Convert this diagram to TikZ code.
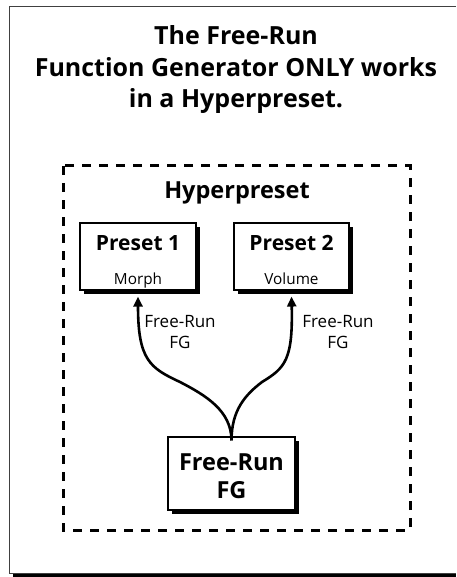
\documentclass[tikz,border=0pt]{standalone}
\usepackage{fontspec}
\setmainfont{Open Sans}
\usetikzlibrary{arrows.meta,shadows,calc}
\begin{document}
\begin{tikzpicture}[x=1pt,y=-1pt,
  box/.style={draw,line width=1.1pt,fill=white,inner sep=0pt,
    drop shadow={shadow xshift=3.5pt,shadow yshift=-3.5pt,fill=black,opacity=1}},
  title/.style={font=\bfseries\fontsize{25}{28}\selectfont,anchor=base,inner sep=0pt},
  head/.style={font=\bfseries\fontsize{21}{24}\selectfont,anchor=base,inner sep=0pt},
  bighead/.style={font=\bfseries\fontsize{23.5}{26}\selectfont,anchor=base,inner sep=0pt},
  small/.style={font=\fontsize{15.3}{17}\selectfont,anchor=base,inner sep=0pt},
  lbl/.style={font=\fontsize{17}{19}\selectfont,anchor=base,inner sep=0pt},
  flow/.style={line width=2.6pt,-{Triangle[length=10pt,width=9pt]}}]
\useasboundingbox (0,0) rectangle (456,577);
% outer frame
\draw[line width=0.8pt,black!75] (456,6) -- (9,6) -- (9,573) -- (456,573);
\fill (13,573.5) rectangle (456,577);
% title
\node[title] (t1) at (236,45) {The Free-Run};
\node[title] (t2) at (236,77) {Function Generator ONLY works};
\node[title] (t3) at (236,108) {in a Hyperpreset.};
% hyperpreset dashed box
\draw[line width=3pt,dash pattern=on 9pt off 8pt] (63,166) rectangle (410,530);
\node[bighead] (hp) at (237,198) {Hyperpreset};
% preset boxes
\node[box,minimum width=116pt,minimum height=67pt] (p1) at (138,256.5) {};
\node[head] (p1t) at (138,250) {Preset 1};
\node[small] (p1s) at (138,284) {Morph};
\node[box,minimum width=115pt,minimum height=67pt] (p2) at (291.5,256.5) {};
\node[head] (p2t) at (291.5,250) {Preset 2};
\node[small] (p2s) at (291.5,284) {Volume};
% FG box
\node[box,minimum width=127pt,minimum height=73pt] (fg) at (231.5,473.5) {};
\node[bighead] (fgt) at (231.5,470) {Free-Run};
\node[bighead] (fgb) at (231.5,498) {FG};
% labels
\node[lbl] (l1a) at (180,327) {Free-Run};
\node[lbl] (l1b) at (180,348) {FG};
\node[lbl] (l2a) at (338,327) {Free-Run};
\node[lbl] (l2b) at (338,348) {FG};
% connectors
\coordinate (m) at ([yshift=-4pt]fg.north);
\draw[flow] (m) .. controls ($(m)+(0,-30)$) and (205,395) .. (180,382)
  .. controls (150,368) and (138,360) .. ([yshift=-6pt]p1.south);
\draw[flow] (m) .. controls ($(m)+(0,-30)$) and (245,395) .. (262,382)
  .. controls (285,368) and (293,360) .. ([yshift=-6pt]p2.south);
\end{tikzpicture}
\end{document}
